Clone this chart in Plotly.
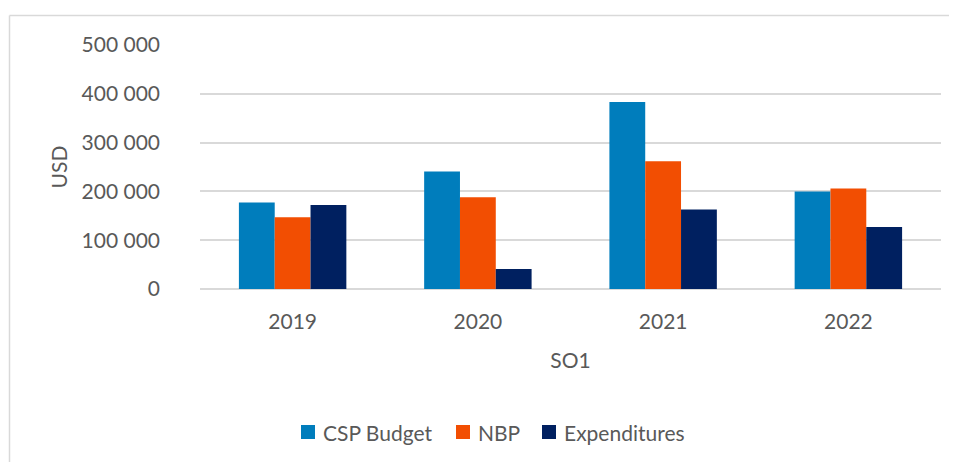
import plotly.graph_objects as go

years = ["2019", "2020", "2021", "2022"]
csp_budget = [177000, 241000, 383000, 200000]
nbp = [147000, 188000, 262000, 206000]
expenditures = [172000, 41000, 163000, 127000]
y_ticks = [0, 100000, 200000, 300000, 400000, 500000]
series_names = ["CSP Budget", "NBP", "Expenditures"]
series_colors = ["#007DBC", "#F24E02", "#002060"]

# page offset from default body margin
OFF = 8
PAGE_W, PAGE_H = 957, 462
W, H = PAGE_W - OFF, PAGE_H - OFF
# desired plot area on page: x 200..941, y 45..289
L, T = 200 - OFF, 45 - OFF
pw, ph = 741, 244
R = W - L - pw
B = H - T - ph

FONT = "Lato"
TXT = "#595959"
FS = 21

fig = go.Figure()
for name, vals, col in zip(series_names, [csp_budget, nbp, expenditures], series_colors):
    fig.add_trace(go.Bar(name=name, x=years, y=vals, marker_color=col,
                         marker_line_width=0, showlegend=False))


def px_x(p):
    # page pixel -> paper
    return (p - OFF - L) / pw


def px_y(p):
    return (T + ph - (p - OFF)) / ph


shapes = [
    dict(type="line", xref="paper", yref="paper", x0=px_x(9.5), x1=px_x(970),
         y0=px_y(15.5), y1=px_y(15.5), line=dict(color="#D9D9D9", width=1.5)),
    dict(type="line", xref="paper", yref="paper", x0=px_x(9.5), x1=px_x(9.5),
         y0=px_y(15.5), y1=px_y(480), line=dict(color="#D9D9D9", width=1.5)),
]
annotations = []
leg_sq_x = [301, 456, 542]
for sx, name, col in zip(leg_sq_x, series_names, series_colors):
    shapes.append(dict(type="rect", xref="paper", yref="paper",
                       x0=px_x(sx), x1=px_x(sx + 14), y0=px_y(425), y1=px_y(439),
                       fillcolor=col, line=dict(width=0)))
    annotations.append(dict(text=name, xref="paper", yref="paper", x=px_x(sx + 20), y=px_y(432),
                            xanchor="left", yanchor="middle", showarrow=False,
                            font=dict(family=FONT, size=FS, color=TXT)))

fig.update_layout(
    width=W, height=H,
    margin=dict(l=L, r=R, t=T, b=B, pad=0),
    paper_bgcolor="white", plot_bgcolor="white",
    separators=". ",
    barmode="group", bargap=0.42, bargroupgap=0,
    font=dict(family=FONT, size=FS, color=TXT),
    showlegend=False,
    xaxis=dict(showgrid=False, showline=False, zeroline=False, ticks="",
               tickfont=dict(family=FONT, size=FS, color=TXT), ticklabelstandoff=18,
               title=dict(text="SO1", font=dict(family=FONT, size=FS, color=TXT), standoff=21)),
    yaxis=dict(range=[0, 500000], tickvals=y_ticks, tickformat=",d",
               showgrid=True, gridcolor="#D9D9D9", gridwidth=1.5,
               zeroline=True, zerolinecolor="#D9D9D9", zerolinewidth=1.5,
               showline=False, ticks="",
               tickfont=dict(family=FONT, size=FS, color=TXT), ticklabelstandoff=39,
               title=dict(text="USD", font=dict(family=FONT, size=FS, color=TXT), standoff=8)),
    shapes=shapes,
    annotations=annotations,
)

fig.write_html("out.html")
